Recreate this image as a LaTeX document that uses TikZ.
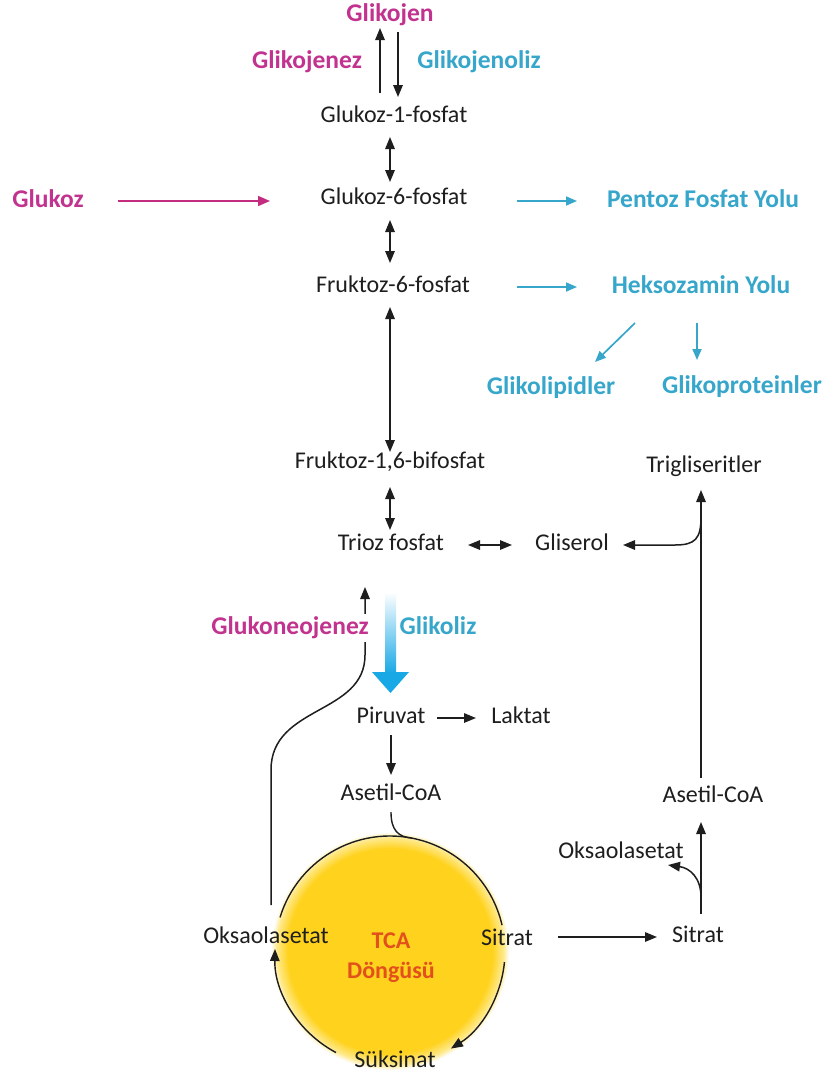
\documentclass[tikz,border=0pt]{standalone}
\usepackage{fontspec}
\setmainfont{Carlito}
\usetikzlibrary{arrows.meta,calc}
\definecolor{ink}{HTML}{1E1E1E}
\definecolor{mag}{HTML}{C2338F}
\definecolor{magline}{HTML}{C42C80}
\definecolor{cy}{HTML}{36A6CB}
\definecolor{tcared}{HTML}{E2501C}
\definecolor{tcay}{HTML}{FFD21E}
\definecolor{tcaedge}{HTML}{FFE98A}
\definecolor{glowcy}{HTML}{19A8E6}
\pgfdeclareradialshading{tcaglow}{\pgfpointorigin}{color(0bp)=(tcay); color(21.5bp)=(tcay); color(23.8bp)=(tcaedge); color(25bp)=(white); color(50bp)=(white)}
\begin{document}
\begin{tikzpicture}[x=1pt,y=-1pt,
  txt/.style={font=\fontsize{24}{28}\selectfont, text=ink, inner sep=0pt, text height=16pt, text depth=5pt},
  bl/.style={font=\fontsize{25.5}{30}\selectfont\bfseries, inner sep=0pt, text height=17pt, text depth=5pt},
  arr/.style={draw=ink, line width=1.5pt, -{Triangle[length=12pt,width=9.5pt]}},
  dbl/.style={draw=ink, line width=1.5pt, {Triangle[length=12pt,width=9.5pt]}-{Triangle[length=12pt,width=9.5pt]}},
  ln/.style={draw=ink, line width=1.4pt},
  cyarr/.style={draw=cy, line width=1.7pt, -{Triangle[length=11pt,width=9pt]}},
  magarr/.style={draw=magline, line width=1.7pt, -{Triangle[length=12pt,width=10pt]}}
]
\fill[white] (0,0) rectangle (825,1077);
\path[use as bounding box] (0,0) rectangle (825,1077);

% TCA glow
\coordinate (c) at (390,951);
\shade[shading=tcaglow] (c) circle[radius=119pt];

% nodes
\node[bl,text=mag] (glikojen) at (390,15) {Glikojen};
\node[bl,text=mag] (glikojenez) at (307,62) {Glikojenez};
\node[bl,text=cy] (glikojenoliz) at (479,62) {Glikojenoliz};
\node[txt] (g1p) at (394,117) {Glukoz-1-fosfat};
\node[bl,text=mag] (glukoz) at (48,201) {Glukoz};
\node[txt] (g6p) at (394,199) {Glukoz-6-fosfat};
\node[bl,text=cy] (pentoz) at (703,201) {Pentoz Fosfat Yolu};
\node[txt] (f6p) at (393,287) {Fruktoz-6-fosfat};
\node[bl,text=cy] (heks) at (701,287) {Heksozamin Yolu};
\node[bl,text=cy] (glipid) at (551,388) {Glikolipidler};
\node[bl,text=cy] (glprot) at (742,387) {Glikoproteinler};
\node[txt] (f16) at (390,463) {Fruktoz-1,6-bifosfat};
\node[txt] (trig) at (704,467) {Trigliseritler};
\node[txt] (trioz) at (391,545) {Trioz fosfat};
\node[txt] (gliserol) at (572,545) {Gliserol};
\node[bl,text=cy] (glikoliz) at (438,628) {Glikoliz};
\node[txt] (piruvat) at (391,718) {Piruvat};
\node[txt] (laktat) at (521,718) {Laktat};
\node[txt] (asetil1) at (391,795) {Asetil-CoA};
\node[txt] (oksa1) at (266,938) {Oksaolasetat};
\node[font=\fontsize{24}{30}\selectfont\bfseries, text=tcared, align=center, inner sep=0pt] (tca) at (391,958) {TCA\\Döngüsü};
\node[txt] (sitrat1) at (507,940) {Sitrat};
\node[txt] (suksinat) at (395,1062) {Süksinat};
\node[txt] (sitrat2) at (698,937) {Sitrat};
\node[txt] (oksa2) at (621,853) {Oksaolasetat};
\node[txt] (asetil2) at (713,797) {Asetil-CoA};

% glycogen arrows
\draw[arr] ($(g1p)+(-14,-24)$) -- ($(glikojen)+(-10,13)$);
\draw[arr] ($(glikojen)+(8,17)$) -- ($(g1p)+(4,-20)$);

% main column
\draw[dbl] ($(g1p)+(-4,20)$) -- ($(g6p)+(-4,-17)$);
\draw[dbl] ($(g6p)+(-4,21)$) -- ($(f6p)+(-3,-24)$);
\draw[dbl] ($(f6p)+(-3,20)$) -- ($(f16)+(0,-11)$);
\draw[dbl] ($(f16)+(0,24)$) -- ($(trioz)+(-1,-15)$);

% side branches
\draw[magarr] ($(glukoz)+(70,0)$) -- ($(g6p)+(-124,2)$);
\draw[cyarr] ($(g6p)+(123,2)$) -- ($(pentoz)+(-126,0)$);
\draw[cyarr] ($(f6p)+(124,0)$) -- ($(heks)+(-124,0)$);
\draw[cyarr] ($(heks)+(-66,36)$) -- ($(glipid)+(44,-26)$);
\draw[cyarr] ($(heks)+(-4,36)$) -- ($(glprot)+(-45,-27)$);

% trioz - gliserol - trigliseritler
\draw[dbl] ($(trioz)+(77,0)$) -- ($(gliserol)+(-60,0)$);
\draw[arr] ($(asetil2)+(-12,-19)$) -- ($(trig)+(-3,23)$);
\coordinate (br1) at ($(trig)+(-3,50)$);
\draw[arr] (br1) .. controls ($(br1)+(0,22)$) and ($(br1)+(-6,28)$) .. ($(br1)+(-26,28)$) -- ($(gliserol)+(51,0)$);

% glycolysis big arrow
\shade[top color=white, bottom color=glowcy] (385,592) rectangle (396,673);
\fill[glowcy] (372,672) -- (409,672) -- (390.5,693) -- cycle;

% gluconeogenesis
\draw[arr] ($(oksa1)+(5,-33)$) -- (271,770) .. controls (271,705) and (365,715) .. (365,655) -- ($(trioz)+(-26,42)$);
\node[bl,text=mag,fill=white,inner sep=3pt] (glukoneo) at (290,628) {Glukoneojenez};

% pyruvate
\draw[arr] ($(piruvat)+(46,0)$) -- ($(laktat)+(-45,0)$);
\draw[arr] ($(piruvat)+(0,17)$) -- ($(asetil1)+(0,-20)$);
\draw[ln] ($(asetil1)+(0,17)$) .. controls ($(asetil1)+(0,35)$) and ($(asetil1)+(7,42)$) .. ($(c)+(22,-112.9)$);

% TCA cycle arcs (canvas angles)
\draw[ln] ($(c)+(163:115pt)$) arc[start angle=163, end angle=13, radius=115pt];
\draw[ln,-{Triangle[length=12pt,width=9.5pt]}] ($(c)+(-5.5:115pt)$) arc[start angle=-5.5, end angle=-58, radius=115pt];
\draw[ln,-{Triangle[length=12pt,width=9.5pt]}] ($(c)+(242:115pt)$) arc[start angle=242, end angle=179, radius=115pt];

% citrate export
\draw[arr] ($(sitrat1)+(51,-3)$) -- ($(sitrat2)+(-41,0)$);
\draw[arr] ($(sitrat2)+(3,-23)$) -- ($(asetil2)+(-12,25)$);
\coordinate (br2) at ($(sitrat2)+(3,-40)$);
\draw[arr] (br2) .. controls ($(br2)+(0,-19)$) and ($(br2)+(-11,-29)$) .. ($(oksa2)+(47,12)$);

\end{tikzpicture}
\end{document}
